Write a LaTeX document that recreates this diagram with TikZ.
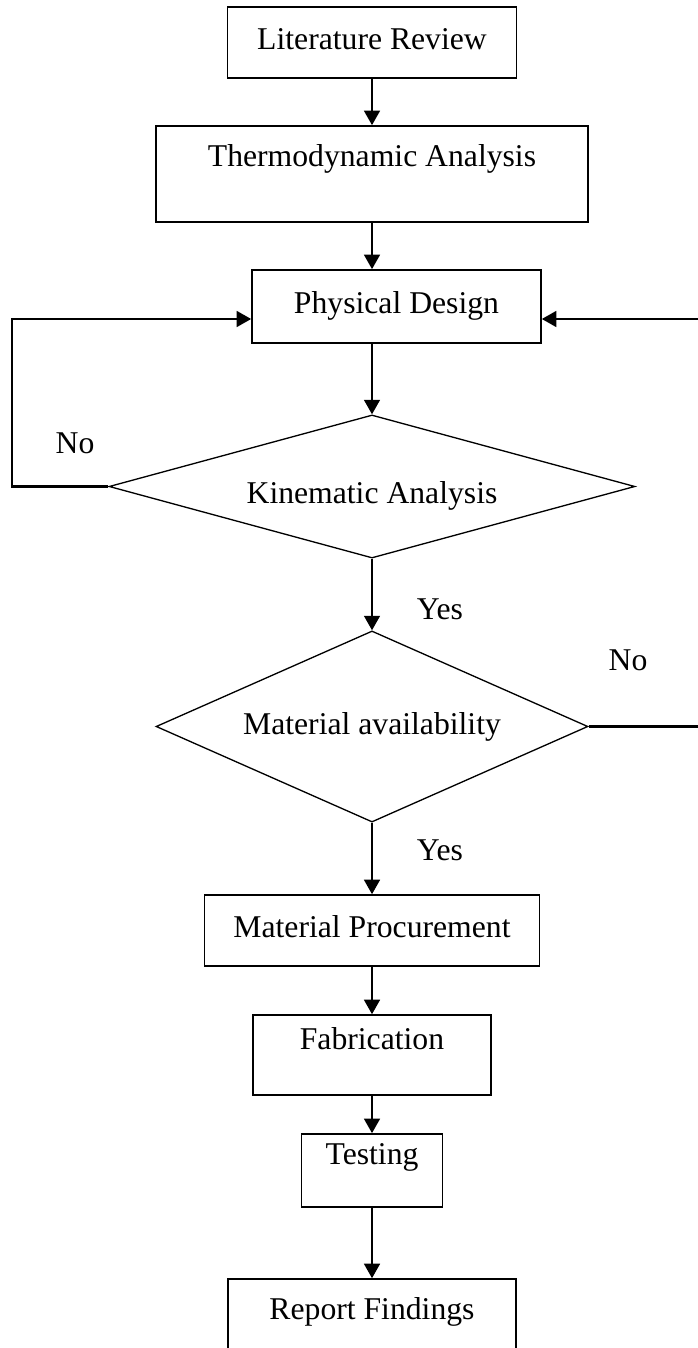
\documentclass[tikz,border=0pt]{standalone}
\usepackage{fontspec}
\setmainfont{Liberation Serif}
\usepackage{tikz}
\usetikzlibrary{
    shapes.geometric,
    arrows.meta,
    calc
}
\tikzset{
    % Process box
    flowbox/.style={
        rectangle,
        draw=black,
        line width=0.6pt,
        fill=white,
        font=\fontsize{12}{14}\selectfont,
        text height=8.5pt,
        text depth=3pt,
        inner xsep=4pt,
        inner ysep=1pt,
        align=center
    },
    % Decision diamond
    flowdecision/.style={
        diamond,
        draw=black,
        line width=0.5pt,
        fill=white,
        font=\fontsize{12}{14}\selectfont,
        aspect=#1,
        inner sep=2pt,
        align=center
    },
    flowdecision/.default=3,
    % Arrow style
    flowarrow/.style={
        -{Triangle[length=5.5pt,width=6pt]},
        line width=0.8pt,
        color=black
    },
    % Plain line
    flowline/.style={
        line width=0.8pt,
        color=black
    },
    % Yes / No text
    flowlabel/.style={
        font=\fontsize{12}{14}\selectfont,
        inner sep=0pt
    }
}
\begin{document}
\begin{tikzpicture}[x=0.3788pt, y=-0.3788pt]

    \useasboundingbox (0,0) rectangle (697,1348);

    % Boxes and decisions
    \node[flowbox, minimum width=109.5pt, minimum height=26.9pt] (lit) at (372,42.5) {Literature Review};
    \node[flowbox, minimum width=163.6pt, minimum height=36.4pt, text depth=13.8pt] (thermo) at (372,174) {Thermodynamic Analysis};
    \node[flowbox, minimum width=109.5pt, minimum height=27.7pt] (phys) at (396.5,306.5) {Physical Design};
    \node[flowdecision=3.6, minimum width=199.2pt, minimum height=54.2pt, text height=14pt, text depth=1pt] (kin) at (372,486.5) {Kinematic Analysis};
    \node[flowdecision=2.3, minimum width=163.6pt, minimum height=72.4pt] (mat) at (372,726.5) {Material availability};
    \node[flowbox, minimum width=126.9pt, minimum height=26.9pt] (proc) at (372,930.5) {Material Procurement};
    \node[flowbox, minimum width=90.2pt, minimum height=30.3pt, text depth=12.3pt] (fab) at (372,1055) {Fabrication};
    \node[flowbox, minimum width=53.4pt, minimum height=27.7pt, text depth=13.4pt] (test) at (372,1170.5) {Testing};
    \node[flowbox, minimum width=109.1pt, minimum height=34.1pt, text depth=12.3pt] (report) at (372,1324) {Report Findings};

    % Yes / No labels
    \node[flowlabel] (nokin) at (75,443) {No};
    \node[flowlabel] (yeskin) at (440,609) {Yes};
    \node[flowlabel] (nomat) at (628,660) {No};
    \node[flowlabel] (yesmat) at (440,850) {Yes};

    % Loop corners
    \coordinate (lefttop) at (12,319);
    \coordinate (righttop) at (700,319);

    % Main flow
    \draw[flowarrow] (lit) -- (thermo);
    \draw[flowarrow] (thermo.south) -- (thermo.south |- phys.north);
    \draw[flowarrow] (kin.north |- phys.south) -- (kin.north);
    \draw[flowarrow] (kin.south) -- (mat.north);
    \draw[flowarrow] (mat.south) -- (proc.north);
    \draw[flowarrow] (proc) -- (fab);
    \draw[flowarrow] (fab) -- (test);
    \draw[flowarrow] (test) -- (report);

    % Feedback loops
    \draw[flowarrow] (kin.west) -- (kin.west -| lefttop) -- (lefttop) -- (lefttop -| phys.west);
    \draw[flowarrow] (mat.east) -- (mat.east -| righttop) -- (righttop) -- (righttop -| phys.east);

\end{tikzpicture}
\end{document}
